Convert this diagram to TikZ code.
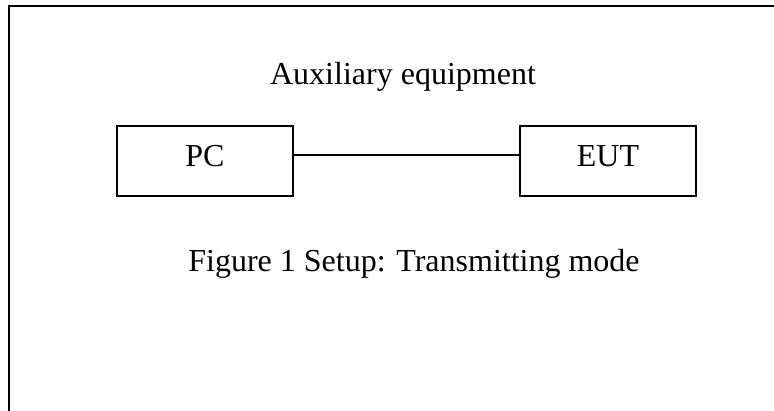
\documentclass[tikz,border=0pt]{standalone}
\usepackage{fontspec}
\setmainfont{Liberation Serif}
\begin{document}
\begin{tikzpicture}[x=1pt,y=-1pt,
  every node/.style={font=\fontsize{32}{38}\selectfont},
  devbox/.style={draw,line width=1.3pt,minimum width=176pt,minimum height=70pt,inner sep=0pt,text height=21pt,text depth=11pt},
  label/.style={anchor=base,inner sep=0pt},
  wire/.style={line width=1.3pt}]
\useasboundingbox (0,0) rectangle (774,410);
\clip (0,0) rectangle (774,410);
\draw[line width=1.3pt] (9,430) -- (9,6) -- (800,6);
\node[label] (aux) at (403,84) {Auxiliary equipment};
\node[devbox] (pc) at (205,161) {PC};
\node[devbox] (eut) at (608,161) {EUT};
\draw[wire] ([yshift=6pt]pc.east) -- ([yshift=6pt]eut.west);
\node[label] (cap) at (414,271) {Figure 1 Setup: Transmitting mode};
\end{tikzpicture}
\end{document}
